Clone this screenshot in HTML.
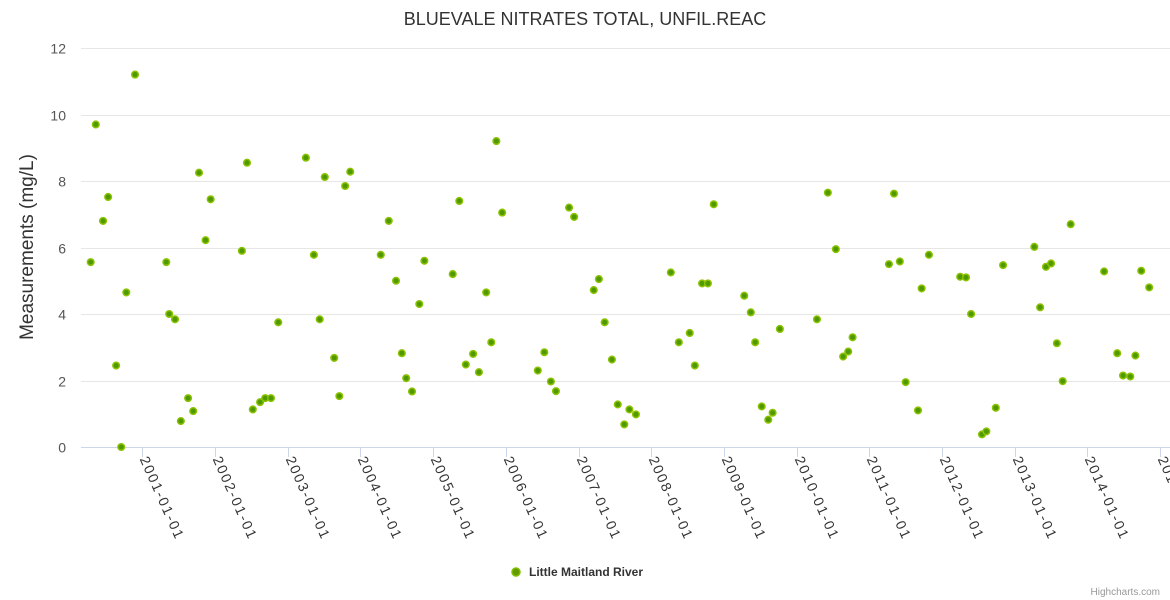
<!DOCTYPE html>
<html><head><meta charset="utf-8">
<style>
html,body{margin:0;padding:0;background:#fff;}
svg{display:block;font-family:"Liberation Sans","DejaVu Sans",sans-serif;}
</style></head>
<body>
<svg id="chart" width="1170" height="600" viewBox="0 0 1170 600">
  <text x="585" y="25" text-anchor="middle" font-size="18" fill="#333">BLUEVALE NITRATES TOTAL, UNFIL.REAC</text>
  <text transform="translate(33,247) rotate(-90)" text-anchor="middle" font-size="19" fill="#333">Measurements (mg/L)</text>
  <g id="grid"></g>
  <g id="yticks"></g>
  <g id="xticks"></g>
  <g id="points"></g>
  <g>
    <circle cx="516" cy="572" r="4" fill="#669900" stroke="#7bbf00" stroke-width="1.5"/>
    <text x="529" y="576" font-size="12" font-weight="bold" fill="#333">Little Maitland River</text>
  </g>
  <text x="1160" y="595" text-anchor="end" font-size="10" fill="#999">Highcharts.com</text>
</svg>
<script>
const yTicks = [0,2,4,6,8,10,12];
const xTickYears = [2001,2002,2003,2004,2005,2006,2007,2008,2009,2010,2011,2012,2013,2014,2015];
const dates = [2000.29,2000.36,2000.46,2000.53,2000.64,2000.71,2000.78,2000.90,
2001.33,2001.37,2001.45,2001.53,2001.63,2001.70,2001.78,2001.87,2001.94,
2002.37,2002.44,2002.52,2002.62,2002.69,2002.77,2002.87,
2003.25,2003.36,2003.44,2003.51,2003.64,2003.71,2003.79,2003.86,
2004.28,2004.39,2004.49,2004.57,2004.63,2004.71,2004.81,2004.88,
2005.27,2005.36,2005.45,2005.55,2005.63,2005.73,2005.80,2005.87,2005.95,
2006.44,2006.53,2006.62,2006.69,2006.87,2006.94,
2007.21,2007.28,2007.36,2007.46,2007.54,2007.63,2007.70,2007.79,
2008.27,2008.38,2008.53,2008.60,2008.70,2008.78,2008.86,
2009.28,2009.37,2009.43,2009.52,2009.61,2009.67,2009.77,
2010.28,2010.43,2010.54,2010.64,2010.71,2010.77,
2011.27,2011.34,2011.42,2011.50,2011.67,2011.72,2011.82,
2012.25,2012.33,2012.40,2012.55,2012.61,2012.74,2012.84,
2013.27,2013.35,2013.43,2013.50,2013.58,2013.66,2013.77,
2014.23,2014.41,2014.49,2014.59,2014.66,2014.74,2014.85];
const values = [5.56,9.7,6.8,7.52,2.45,0,4.65,11.2,
5.56,4.0,3.84,0.78,1.47,1.08,8.25,6.22,7.45,
5.9,8.55,1.13,1.35,1.47,1.47,3.75,
8.7,5.78,3.84,8.12,2.68,1.53,7.85,8.28,
5.78,6.8,5.0,2.82,2.07,1.67,4.3,5.6,
5.2,7.4,2.48,2.8,2.25,4.65,3.15,9.2,7.05,
2.3,2.85,1.97,1.68,7.2,6.92,
4.72,5.05,3.75,2.63,1.28,0.68,1.13,0.98,
5.25,3.15,3.43,2.45,4.92,4.92,7.3,
4.55,4.05,3.15,1.22,0.82,1.03,3.55,
3.84,7.65,5.95,2.72,2.87,3.3,
5.5,7.62,5.58,1.95,1.1,4.77,5.78,
5.12,5.1,4.0,0.38,0.47,1.18,5.47,
6.02,4.2,5.42,5.52,3.12,1.98,6.7,
5.28,2.82,2.15,2.12,2.75,5.3,4.8];

const NS='http://www.w3.org/2000/svg';
const plotL=81, plotR=1170, yTop=48, yBot=447;
function yScale(v){return yBot-(v/12)*(yBot-yTop);}
function xScale(t){return 142.3+(t-2001)*72.7;}
function mk(tag,attrs,parent){const e=document.createElementNS(NS,tag);for(const k in attrs)e.setAttribute(k,attrs[k]);parent.appendChild(e);return e;}

const grid=document.getElementById('grid'), yt=document.getElementById('yticks'), xt=document.getElementById('xticks'), pts=document.getElementById('points');
yTicks.forEach(v=>{
  const y=Math.round(yScale(v))+0.5;
  const l=mk('line',{x1:plotL,x2:plotR,y1:y,y2:y,stroke: v===0?'#ccd6eb':'#e6e6e6','stroke-width':1},grid);
  
  
  const t=mk('text',{x:66,y:y+5,'text-anchor':'end','font-size':14,fill:'#555'},yt);
  t.textContent=v;
  
  
});
xTickYears.forEach(yr=>{
  const x=Math.round(xScale(yr))+0.5;
  const l=mk('line',{x1:x,x2:x,y1:yBot,y2:yBot+10,stroke:'#ccd6eb','stroke-width':1},xt);
  
  
  const t=mk('text',{transform:`translate(${x-3},${yBot+12}) rotate(66)`,'font-size':14,fill:'#333',textLength:88,lengthAdjust:'spacing'},xt);
  t.textContent=yr+'-01-01';
  
  
});
dates.forEach((d,i)=>{
  const c=mk('circle',{cx:xScale(d),cy:yScale(values[i]),r:3.3,fill:'#4f9a00',stroke:'#8cc200','stroke-width':1.5},pts);
  
  
});
</script>
</body></html>
